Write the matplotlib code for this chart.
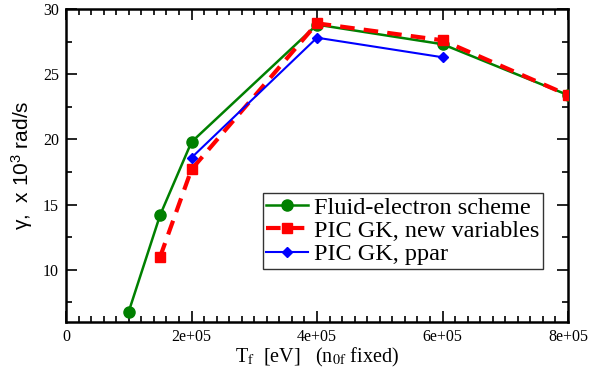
import matplotlib
matplotlib.use("Agg")
import matplotlib.pyplot as plt
from matplotlib.ticker import MultipleLocator
from matplotlib.font_manager import FontProperties

plt.rcParams["mathtext.fontset"] = "custom"
plt.rcParams["mathtext.rm"] = "Liberation Sans"
plt.rcParams["mathtext.it"] = "Liberation Sans:italic"

fluid_x = [1.0e5, 1.5e5, 2.0e5, 4.0e5, 6.0e5, 8.0e5]
fluid_y = [6.8, 14.2, 19.8, 28.8, 27.3, 23.4]
picnew_x = [1.5e5, 2.0e5, 4.0e5, 6.0e5, 8.0e5]
picnew_y = [11.0, 17.7, 28.9, 27.6, 23.4]
ppar_x = [2.0e5, 4.0e5, 6.0e5]
ppar_y = [18.6, 27.8, 26.3]
xtick_vals = [0, 2e5, 4e5, 6e5, 8e5]
xtick_labels = ["0", "2e+05", "4e+05", "6e+05", "8e+05"]
ytick_vals = [10, 15, 20, 25, 30]

fig = plt.figure(figsize=(5.89, 3.76), dpi=100)
ax = fig.add_axes([66/589, 1-322/376, (568-66)/589, (322-9)/376])

ax.plot(fluid_x, fluid_y, color="#008000", lw=1.8, marker="o", ms=8,
        label="Fluid-electron scheme", zorder=3)
ax.plot(picnew_x, picnew_y, color="#ff0000", lw=3, ls=(0, (3.5, 2.2)), marker="s", ms=7.5,
        label="PIC GK, new variables", zorder=4)
ax.plot(ppar_x, ppar_y, color="#0000ff", lw=1.5, marker="D", ms=5.5,
        label="PIC GK, ppar", zorder=5)

ax.set_xlim(0, 8e5)
ax.set_ylim(6, 30)
ax.set_xticks(xtick_vals)
ax.set_xticklabels(xtick_labels)
ax.set_yticks(ytick_vals)
ax.set_yticklabels([str(v) for v in ytick_vals])
ax.xaxis.set_minor_locator(MultipleLocator(2e4))
ax.yaxis.set_minor_locator(MultipleLocator(2.5))
ax.tick_params(which="both", direction="in", top=True, right=True, width=1.2)
ax.tick_params(which="major", length=8, labelsize=11.5, pad=5)
ax.tick_params(which="minor", length=4)
for lbl in ax.get_xticklabels() + ax.get_yticklabels():
    lbl.set_family("Liberation Serif")
for s in ax.spines.values():
    s.set_linewidth(1.8)

xfp = FontProperties(family="Liberation Serif", size=14.5, math_fontfamily="stix")
ax.set_xlabel(r"T$_{\rm f}$  [eV]   (n$_{\rm 0f}$ fixed)", fontproperties=xfp, labelpad=1)
yfp = FontProperties(family="Liberation Sans", size=15, math_fontfamily="custom")
ax.set_ylabel("\u03b3,  x 10$^3$ rad/s", fontproperties=yfp, labelpad=6)

leg = ax.legend(loc="lower right", bbox_to_anchor=(0.95, 0.17),
                prop={"family": "Liberation Serif", "size": 17.5},
                frameon=True, fancybox=False, edgecolor="black", handlelength=1.7,
                handletextpad=0.25, borderpad=0.15, labelspacing=0.05, borderaxespad=0)
leg.get_frame().set_linewidth(1.0)

fig.savefig("out.png", dpi=100)
